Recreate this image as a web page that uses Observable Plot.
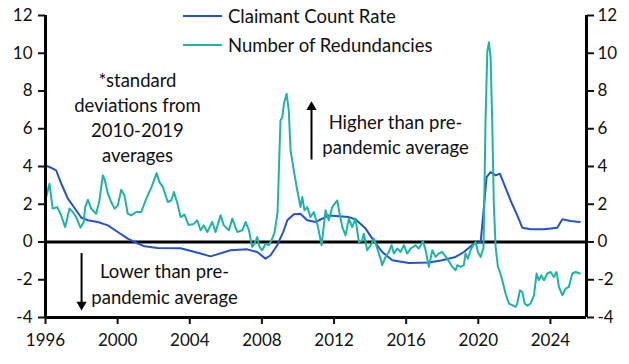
<!DOCTYPE html>
<html><head><meta charset="utf-8">
<script src="https://cdn.jsdelivr.net/npm/d3@7"></script>
<script src="https://cdn.jsdelivr.net/npm/@observablehq/plot@0.6"></script>
<style>
body{margin:0;background:#fff;}
#wrap{position:relative;width:629px;height:364px;font-family:Lato,sans-serif;}
.leg{position:absolute;left:183px;height:20px;display:flex;align-items:center;font-size:18.5px;color:#111;white-space:nowrap;}
.leg .sw{display:inline-block;width:39px;height:2px;margin-right:6px;}
</style></head><body><div id="wrap"></div>
<script>
// Claimant Count Rate (std devs from 2010-2019 average)
const ccYears = [1996.00,1996.28,1996.59,1996.87,1997.24,1997.61,1997.98,1998.35,1998.90,1999.46,2000.01,2000.56,2001.12,2001.49,2002.23,2003.49,2004.60,2005.15,2006.26,2007.19,2007.74,2008.20,2008.48,2008.85,2009.22,2009.41,2009.77,2010.14,2010.51,2010.98,2011.71,2012.82,2013.19,2013.75,2014.12,2014.67,2015.23,2016.15,2017.26,2018.00,2018.74,2019.20,2019.75,2020.13,2020.31,2020.46,2020.68,2020.96,2021.20,2021.42,2021.79,2022.16,2022.44,2022.90,2023.64,2024.38,2024.66,2025.12,2025.63];
const ccValues = [4.05,3.95,3.8,3.1,2.3,1.8,1.3,1.15,1.06,0.88,0.53,0.18,-0.08,-0.23,-0.32,-0.33,-0.61,-0.76,-0.44,-0.39,-0.53,-0.88,-0.7,-0.17,0.62,1.15,1.47,1.5,1.15,1.06,1.41,1.32,1.2,0.71,0.18,-0.53,-0.97,-1.11,-1.09,-0.97,-0.79,-0.53,-0.09,0.0,1.85,3.44,3.7,3.53,3.62,3.09,2.2,1.41,0.76,0.67,0.67,0.76,1.2,1.11,1.06];

// Number of Redundancies (std devs from 2010-2019 average)
const redYears = [1996.04,1996.22,1996.40,1996.65,1996.83,1997.09,1997.33,1997.51,1997.70,1997.94,1998.12,1998.20,1998.35,1998.53,1998.81,1998.99,1999.18,1999.27,1999.46,1999.64,1999.83,2000.01,2000.20,2000.38,2000.56,2000.75,2001.03,2001.31,2001.59,2001.88,2002.16,2002.32,2002.51,2002.78,2002.97,2003.12,2003.30,2003.49,2003.71,2003.93,2004.21,2004.41,2004.60,2004.78,2004.97,2005.25,2005.43,2005.71,2005.89,2006.17,2006.36,2006.63,2006.91,2007.10,2007.28,2007.46,2007.59,2007.74,2007.87,2008.02,2008.20,2008.38,2008.57,2008.70,2008.87,2009.03,2009.13,2009.22,2009.37,2009.49,2009.59,2009.77,2009.96,2010.14,2010.24,2010.36,2010.51,2010.70,2010.88,2011.11,2011.31,2011.53,2011.71,2011.90,2012.18,2012.31,2012.46,2012.64,2012.82,2013.01,2013.19,2013.38,2013.57,2013.65,2013.84,2014.03,2014.21,2014.40,2014.58,2014.67,2014.86,2015.04,2015.19,2015.32,2015.51,2015.69,2015.87,2016.06,2016.24,2016.52,2016.70,2016.93,2017.08,2017.26,2017.45,2017.63,2017.81,2018.00,2018.28,2018.56,2018.74,2018.83,2019.02,2019.20,2019.29,2019.42,2019.57,2019.72,2019.85,2019.98,2020.13,2020.29,2020.40,2020.50,2020.59,2020.68,2020.77,2020.86,2020.96,2021.09,2021.20,2021.33,2021.51,2021.70,2021.88,2022.07,2022.16,2022.31,2022.44,2022.57,2022.72,2022.90,2023.09,2023.23,2023.36,2023.49,2023.64,2023.83,2024.01,2024.19,2024.34,2024.47,2024.66,2024.84,2025.02,2025.21,2025.40,2025.63];
const redValues = [2.38,3.09,1.77,1.85,1.5,0.79,1.77,1.59,1.32,0.76,1.06,1.85,2.24,1.77,1.5,2.2,3.53,3.35,2.56,2.12,1.77,1.94,2.77,2.47,1.5,1.41,1.59,1.59,2.3,2.91,3.65,3.17,2.91,2.12,2.2,2.65,2.1,1.32,1.45,0.9,0.95,1.15,0.62,0.88,0.53,1.06,0.53,1.41,0.88,0.62,1.24,0.53,0.62,1.06,0.62,-0.26,-0.09,0.26,-0.26,-0.44,-0.09,-0.17,0.18,0.5,1.6,6.44,6.61,7.32,7.85,6.97,4.85,3.79,2.74,1.85,2.38,1.68,1.85,1.32,1.59,0.8,-0.17,1.68,1.15,1.85,2.2,1.5,0.79,0.35,1.24,0.79,1.24,0.0,0.1,0.44,-0.44,-0.17,0.18,-0.35,-0.88,-1.23,-0.79,-0.53,-0.17,-0.61,-0.35,-0.53,-0.17,-0.61,-0.35,-0.17,-0.35,0.04,-0.44,-1.32,-0.44,-0.79,-0.61,-0.53,-0.88,-1.32,-1.5,-1.23,-1.32,-1.23,-0.61,-0.88,-0.44,-0.17,0.0,-0.53,-0.79,-0.3,6.4,10.1,10.58,9.8,6.44,2.05,-0.26,-1.32,-1.59,-2.03,-2.73,-3.26,-3.35,-3.44,-3.26,-2.56,-2.65,-3.26,-3.38,-3.26,-2.82,-1.67,-2.03,-1.76,-2.03,-1.67,-1.59,-1.85,-1.59,-2.38,-2.82,-2.47,-2.38,-1.67,-1.59,-1.67];

const seriesNames = ["Claimant Count Rate", "Number of Redundancies"];
const xTicks = [1996, 2000, 2004, 2008, 2012, 2016, 2020, 2024];
const yTicks = [-4, -2, 0, 2, 4, 6, 8, 10, 12];

const noteTexts = ["*standard\ndeviations from\n2010-2019\naverages", "Higher than pre-\npandemic average", "Lower than pre-\npandemic average"];
const noteX = [2001.1, 2015.41, 2002.6];
const noteY = [6.65, 5.77, -2.17];
const arrowX = [2010.75, 1998.0];
const arrowFrom = [4.37, -0.59];
const arrowTo = [7.15, -3.32];

const BLUE = "#2453c9";
const TEAL = "#1cb5a3";

const ccData = ccYears.map((y, i) => ({year: y, value: ccValues[i]}));
const redData = redYears.map((y, i) => ({year: y, value: redValues[i]}));
const notes = noteTexts.map((t, i) => ({text: t, x: noteX[i], y: noteY[i]}));
const arrows = arrowX.map((x, i) => ({x, y1: arrowFrom[i], y2: arrowTo[i], rot: arrowTo[i] > arrowFrom[i] ? 0 : 180}));

const chart = Plot.plot({
  width: 629, height: 364,
  marginLeft: 45, marginRight: 43, marginTop: 15, marginBottom: 47,
  style: {fontFamily: "Lato, sans-serif", fontSize: "17px", color: "#111", background: "white"},
  x: {domain: [1996, 2026]},
  y: {domain: [-4, 12]},
  marks: [
    Plot.ruleY([0], {stroke: "#000", strokeWidth: 3}),
    Plot.line(ccData, {x: "year", y: "value", stroke: BLUE, strokeWidth: 2, strokeLinejoin: "round"}),
    Plot.line(redData, {x: "year", y: "value", stroke: TEAL, strokeWidth: 2, strokeLinejoin: "round"}),
    Plot.ruleY([yTicks[0]], {stroke: "#000", strokeWidth: 3}),
    Plot.ruleX([1996, 2026], {stroke: "#000", strokeWidth: 3}),
    Plot.axisX({ticks: xTicks, tickFormat: d => String(d), tickSize: 7, tickPadding: 9, strokeWidth: 2, label: null}),
    Plot.axisY({anchor: "left", ticks: yTicks, tickFormat: d => String(d), tickSize: 7, tickPadding: 6, strokeWidth: 2, label: null}),
    Plot.axisY({anchor: "right", ticks: yTicks, tickFormat: d => String(d), tickSize: 7, tickPadding: 4, strokeWidth: 2, label: null}),
    Plot.text(notes, {x: "x", y: "y", text: "text", fontSize: 18.5, lineHeight: 1.36, textAnchor: "middle", lineAnchor: "middle", fill: "#111"}),
    Plot.link(arrows, {x1: "x", x2: "x", y1: "y1", y2: "y2", stroke: "#000", strokeWidth: 2}),
    Plot.dot(arrows, {x: "x", y: "y2", symbol: "triangle", r: 3.8, fill: "#000", rotate: "rot"})
  ]
});

const wrap = document.getElementById("wrap");
wrap.appendChild(chart);
const legColors = [BLUE, TEAL];
const legTops = [6, 35];
seriesNames.forEach((name, i) => {
  const d = document.createElement("div");
  d.className = "leg";
  d.style.top = legTops[i] + "px";
  d.innerHTML = `<span class="sw" style="background:${legColors[i]}"></span><span>${name}</span>`;
  wrap.appendChild(d);
});
</script></body></html>
